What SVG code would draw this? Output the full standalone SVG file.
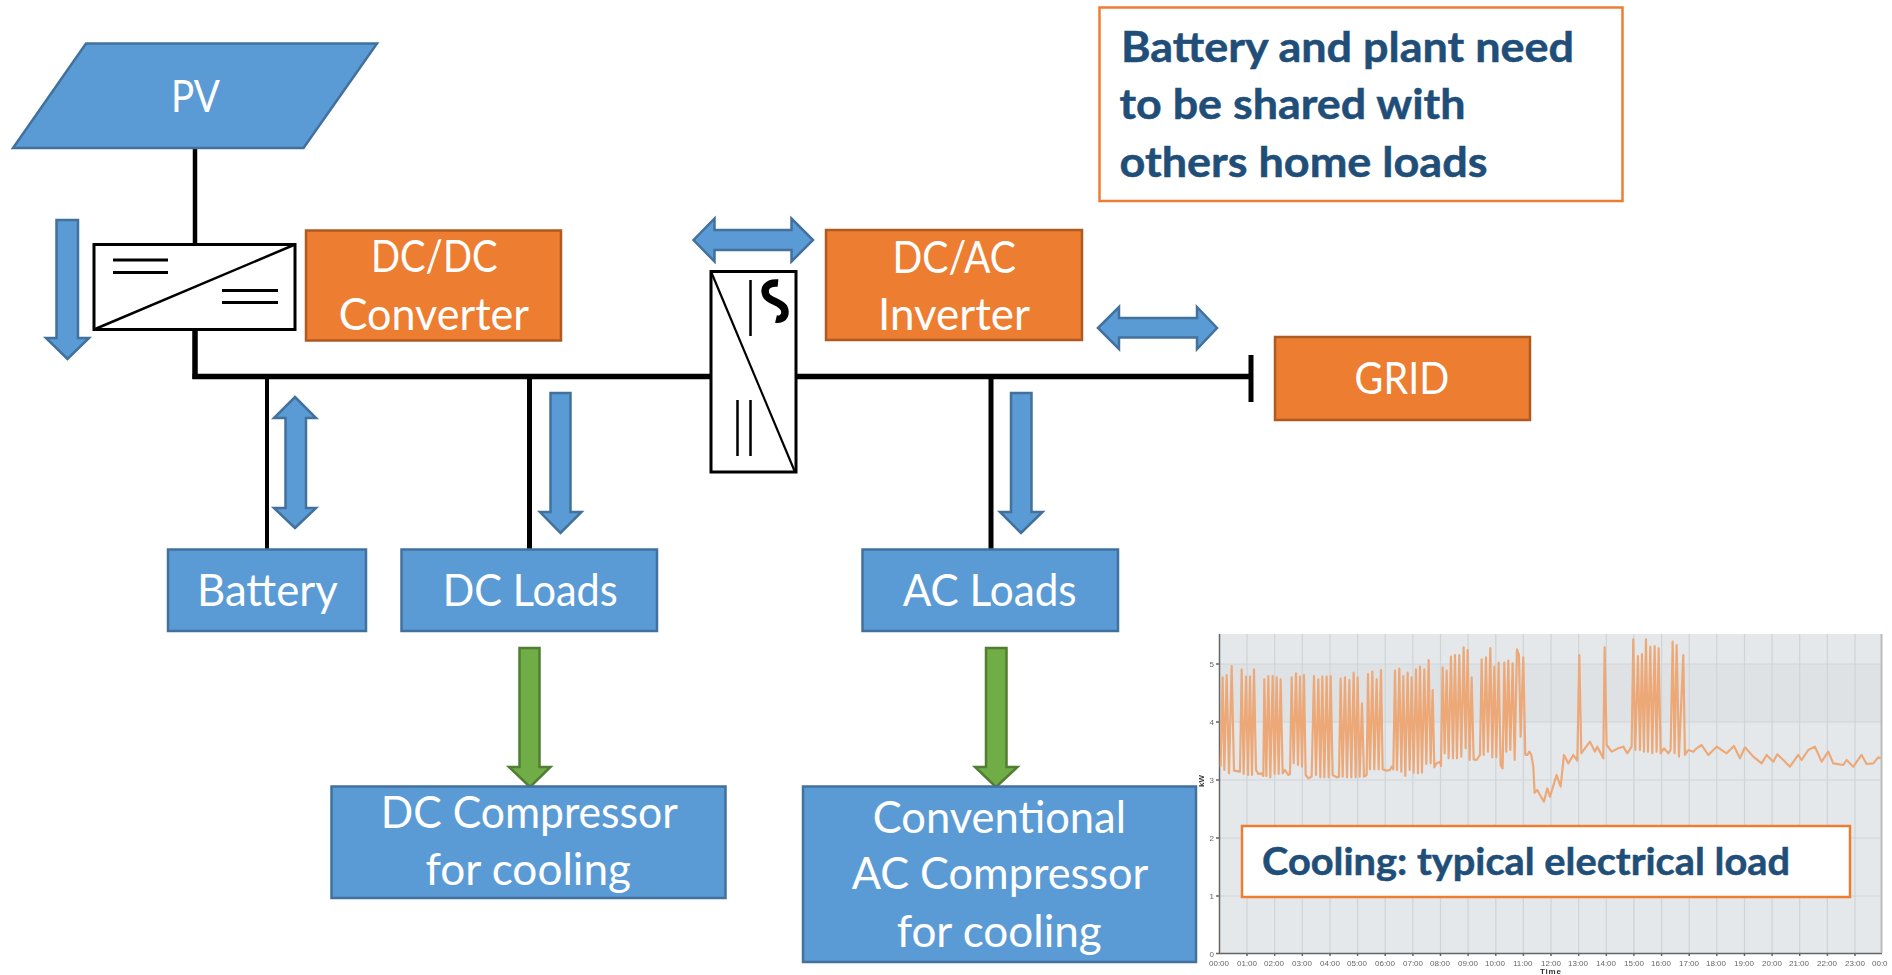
<svg xmlns="http://www.w3.org/2000/svg" width="1892" height="975" viewBox="0 0 1892 975">
<defs>
<filter id="soft" x="-2%" y="-2%" width="104%" height="104%"><feGaussianBlur stdDeviation="0.7"/></filter>
</defs>
<style>
.b{fill:#5b9bd5;stroke:#41719c;stroke-width:2.5}
.o{fill:#ed7d31;stroke:#ae5a21;stroke-width:2.5}
.g{fill:#70ad47;stroke:#507e32;stroke-width:2.5}
.t{font-family:"Lato","Open Sans",sans-serif;font-size:44px;fill:#fff}
.n{font-family:"Lato","Open Sans",sans-serif;font-weight:700;fill:#1f4e79;stroke:#1f4e79;stroke-width:.5}
.w{fill:none;stroke:#000;stroke-linecap:butt}
.note{fill:#fff;stroke:#ed7d31;stroke-width:2.5}
.tick{font-family:"Liberation Sans",Arial,sans-serif;font-size:8px;fill:#666}
.grid{stroke:#cfd4d8;stroke-width:1.2;fill:none}
</style>
<rect width="1892" height="975" fill="#fff"/>
<g id="connectors">
<path class="w" stroke-width="4.5" d="M195 148V245"/>
<path class="w" stroke-width="5.5" d="M195 329V379"/>
<path class="w" stroke-width="5.5" d="M192.500 376.500H711M796 376.500H1251"/>
<path class="w" stroke-width="5" d="M1251 355V402"/>
<path class="w" stroke-width="4" d="M267 376V549"/>
<path class="w" stroke-width="5" d="M529.500 376V549"/>
<path class="w" stroke-width="5" d="M991 376V549"/>
<path id="flow-pv" class="b" d="M56.500 220H78V338H89L67.500 359L46 338H56.500Z"/>
<path id="flow-battery" class="b" d="M295 397L316 418H306V508H316L295 528L274 508H285.500V418H274Z"/>
<path id="flow-dc" class="b" d="M550.500 393H570.500V512H581.500L560.500 533L540 512H550.500Z"/>
<path id="flow-ac" class="b" d="M1011 393H1031.500V512H1042.500L1021 533L1000 512H1011Z"/>
<path id="flow-dccomp" class="g" d="M519.500 648H539.500V767H550.500L530 787L509 767H519.500Z"/>
<path id="flow-accomp" class="g" d="M986 648H1006.500V767H1017.500L996 787L975 767H986Z"/>
<path id="flow-inv" class="b" d="M693.500 240L714.500 218.500V230H791.500V218.500L813 240L791.500 261.500V250H714.500V261.500Z"/>
<path id="flow-grid" class="b" d="M1098 328L1119 307V318H1197V307L1217 328L1197 349V337.500H1119V349Z"/>
</g>
<g id="pv"><path class="b" d="M86 43.500H377L303.500 148H13Z"/><text class="t" x="171" y="111.500" textLength="49" lengthAdjust="spacingAndGlyphs">PV</text></g>
<g id="dcdc-symbol">
<rect x="94" y="244.500" width="201" height="85" fill="#fff" stroke="#000" stroke-width="3"/>
<path class="w" stroke-width="2.500" d="M94 329.500L295 244.500"/>
<path class="w" stroke-width="3" d="M113 260H168M113 272.500H168M222 290.500H278M222 302.500H278"/>
</g>
<g id="dcdc-label"><rect class="o" x="306" y="230.500" width="255" height="110"/>
<text class="t" x="371" y="272.300" textLength="126.500" lengthAdjust="spacingAndGlyphs">DC/DC</text>
<text class="t" x="338.700" y="329.700" textLength="190.300" lengthAdjust="spacingAndGlyphs">Converter</text></g>
<g id="inverter-symbol">
<rect x="711" y="271.500" width="85" height="200.500" fill="#fff" stroke="#000" stroke-width="3"/>
<path class="w" stroke-width="2.200" d="M711 271.500L795 472"/>
<path class="w" stroke-width="2.500" d="M750.500 280V336M737.500 400V456M750.500 400V456"/>
<path class="w" stroke-width="7.500" d="M778 283C768 282 763 288 766 295C769 302 785 302 785 312C785 318 780 320 776 319"/>
</g>
<g id="inverter-label"><rect class="o" x="826" y="230" width="256" height="110"/>
<text class="t" x="892.500" y="272.700" textLength="123.500" lengthAdjust="spacingAndGlyphs">DC/AC</text>
<text class="t" x="878" y="330" textLength="152" lengthAdjust="spacingAndGlyphs">Inverter</text></g>
<g id="grid"><rect class="o" x="1275" y="337" width="255" height="83"/>
<text class="t" x="1354.600" y="394" textLength="94.700" lengthAdjust="spacingAndGlyphs">GRID</text></g>
<g id="battery"><rect class="b" x="168" y="549.500" width="198" height="81.500"/>
<text class="t" x="197" y="605.500" textLength="140.700" lengthAdjust="spacingAndGlyphs">Battery</text></g>
<g id="dc-loads"><rect class="b" x="401.500" y="549.500" width="255.500" height="81.500"/>
<text class="t" x="442.800" y="605.500" textLength="175" lengthAdjust="spacingAndGlyphs">DC Loads</text></g>
<g id="ac-loads"><rect class="b" x="862.500" y="549.500" width="255.500" height="81.500"/>
<text class="t" x="902.700" y="605.700" textLength="174" lengthAdjust="spacingAndGlyphs">AC Loads</text></g>
<g id="dc-compressor"><rect class="b" x="331.500" y="786.500" width="394" height="111.500"/>
<text class="t" x="380.800" y="828" textLength="297" lengthAdjust="spacingAndGlyphs">DC Compressor</text>
<text class="t" x="425.500" y="885" textLength="205.500" lengthAdjust="spacingAndGlyphs">for cooling</text></g>
<g id="ac-compressor"><rect class="b" x="803" y="786.500" width="393" height="175.500"/>
<text class="t" x="872.700" y="832.700" textLength="253.300" lengthAdjust="spacingAndGlyphs">Conventional</text>
<text class="t" x="851.700" y="889.300" textLength="296.600" lengthAdjust="spacingAndGlyphs">AC Compressor</text>
<text class="t" x="896.700" y="947" textLength="205" lengthAdjust="spacingAndGlyphs">for cooling</text></g>
<g id="note-top"><rect class="note" x="1099.500" y="7.500" width="523" height="193.500"/>
<text class="n" font-size="42" x="1121" y="61.500" textLength="453" lengthAdjust="spacingAndGlyphs">Battery and plant need</text>
<text class="n" font-size="42" x="1119.500" y="119" textLength="346" lengthAdjust="spacingAndGlyphs">to be shared with</text>
<text class="n" font-size="42" x="1119.500" y="176.700" textLength="368" lengthAdjust="spacingAndGlyphs">others home loads</text></g>
<g id="chart">
<g filter="url(#soft)">
<rect x="1219.500" y="634" width="662.500" height="319.500" fill="#e4e8eb"/>
<rect x="1219.500" y="664" width="662.500" height="58" fill="#dfe2e5"/>
<path class="grid" d="M1219.500 664H1882M1219.500 722H1882M1219.500 780H1882M1219.500 838H1882M1219.500 896H1882M1247 634V953M1274.700 634V953M1302.300 634V953M1330 634V953M1357.600 634V953M1385.200 634V953M1412.900 634V953M1440.500 634V953M1468.100 634V953M1495.800 634V953M1523.400 634V953M1551 634V953M1578.700 634V953M1606.300 634V953M1633.900 634V953M1661.600 634V953M1689.200 634V953M1716.800 634V953M1744.500 634V953M1772.100 634V953M1799.700 634V953M1827.400 634V953M1855 634V953"/>
<path d="M1219.500 634V953.500H1882M1216 664H1219.500M1216 722H1219.500M1216 780H1219.500M1216 838H1219.500M1216 896H1219.500M1216 953.500H1219.500M1247 953V956M1274.700 953V956M1302.300 953V956M1330 953V956M1357.600 953V956M1385.200 953V956M1412.900 953V956M1440.500 953V956M1468.100 953V956M1495.800 953V956M1523.400 953V956M1551 953V956M1578.700 953V956M1606.300 953V956M1633.900 953V956M1661.600 953V956M1689.200 953V956M1716.800 953V956M1744.500 953V956M1772.100 953V956M1799.700 953V956M1827.400 953V956M1855 953V956" fill="none" stroke="#666" stroke-width="1.500"/>
<path d="M1881.500 634V953" fill="none" stroke="#bbb" stroke-width="2"/>
<g transform="translate(1190 620) scale(.3333)"><path fill="none" stroke="#eda877" stroke-width="6.500" stroke-linejoin="round" d="M92 440L98 172 103 450 110 165 117 460 125 138 132 452 150 455 155 148 161 462 168 170 174 465 180 170 186 465 192 148 198 450 205 462 215 460 220 468 223 178 229 468 235 168 241 472 248 168 254 462 260 172 266 462 272 178 278 460 285 450 295 465 300 462 305 172 311 430 318 160 324 435 330 170 336 440 342 165 347 465 355 475 365 470 372 168 378 465 385 178 391 472 397 170 403 472 410 170 416 472 422 168 428 465 440 472 447 470 452 176 458 470 465 172 471 472 478 180 484 472 491 158 497 472 503 172 509 470 516 250 522 470 530 465 534 162 540 448 547 155 553 448 560 178 566 448 573 150 578 448 590 452 600 450 605 440 610 448 615 152 621 450 628 146 634 455 640 168 646 468 653 158 659 450 665 172 671 458 678 148 684 460 690 140 696 458 703 148 709 432 716 120 722 430 728 210 733 442 740 430 750 425 753 438 758 142 764 400 770 152 776 415 783 110 789 415 795 105 801 415 808 105 814 410 821 82 827 385 833 90 839 420 845 172 851 418 860 420 870 405 875 118 881 405 888 112 894 395 901 84 907 412 913 140 919 412 926 128 932 435 938 445 943 128 949 395 955 122 961 390 968 130 974 420 981 88 987 105 992 350 1000 112 1006 405 1012 405 1018 395 1024 405 1030 440 1034 518 1042 510 1050 525 1062 545 1072 505 1080 530 1100 465 1112 500 1122 405 1135 430 1150 405 1162 422 1168 105 1174 400 1185 385 1200 365 1215 395 1222 380 1240 415 1244 82 1250 375 1265 395 1285 385 1300 380 1312 400 1325 380 1330 58 1336 390 1344 108 1350 390 1356 102 1362 395 1368 58 1374 395 1381 80 1387 400 1394 78 1400 395 1406 85 1412 400 1422 385 1435 400 1442 390 1448 65 1454 400 1460 75 1467 410 1480 105 1485 405 1495 390 1510 395 1520 385 1535 375 1555 405 1580 380 1610 400 1632 378 1650 415 1665 382 1690 410 1715 430 1730 405 1750 425 1762 403 1780 420 1800 440 1825 405 1835 420 1855 390 1875 380 1895 425 1915 395 1930 430 1960 435 1970 420 1990 440 2015 405 2030 432 2050 430 2065 412 2072 415"/></g>
</g>
<g id="chart-labels" filter="url(#soft)">
<text class="tick" x="1209.500" y="667">5</text><text class="tick" x="1209.500" y="725">4</text><text class="tick" x="1209.500" y="783">3</text><text class="tick" x="1209.500" y="841">2</text><text class="tick" x="1209.500" y="899">1</text><text class="tick" x="1209.500" y="957">0</text>
<text class="tick" font-weight="700" font-size="9" transform="translate(1204 787) rotate(-90)" fill="#333" style="fill:#333">kW</text>
<text class="tick" x="1209" y="966">00:00</text><text class="tick" x="1237" y="966">01:00</text><text class="tick" x="1264" y="966">02:00</text><text class="tick" x="1292" y="966">03:00</text><text class="tick" x="1320" y="966">04:00</text><text class="tick" x="1347" y="966">05:00</text><text class="tick" x="1375" y="966">06:00</text><text class="tick" x="1403" y="966">07:00</text><text class="tick" x="1430" y="966">08:00</text><text class="tick" x="1458" y="966">09:00</text><text class="tick" x="1485" y="966">10:00</text><text class="tick" x="1513" y="966">11:00</text><text class="tick" x="1541" y="966">12:00</text><text class="tick" x="1568" y="966">13:00</text><text class="tick" x="1596" y="966">14:00</text><text class="tick" x="1624" y="966">15:00</text><text class="tick" x="1651" y="966">16:00</text><text class="tick" x="1679" y="966">17:00</text><text class="tick" x="1706" y="966">18:00</text><text class="tick" x="1734" y="966">19:00</text><text class="tick" x="1762" y="966">20:00</text><text class="tick" x="1789" y="966">21:00</text><text class="tick" x="1817" y="966">22:00</text><text class="tick" x="1845" y="966">23:00</text><text class="tick" x="1872" y="966">00:0</text>
<text class="tick" font-weight="700" x="1540" y="974" textLength="21" style="fill:#333">Time</text>
</g>
</g>
<g id="note-chart"><rect class="note" x="1242" y="826" width="608" height="71"/>
<text class="n" font-size="38" x="1262" y="875" textLength="528" lengthAdjust="spacingAndGlyphs">Cooling: typical electrical load</text></g>
</svg>
